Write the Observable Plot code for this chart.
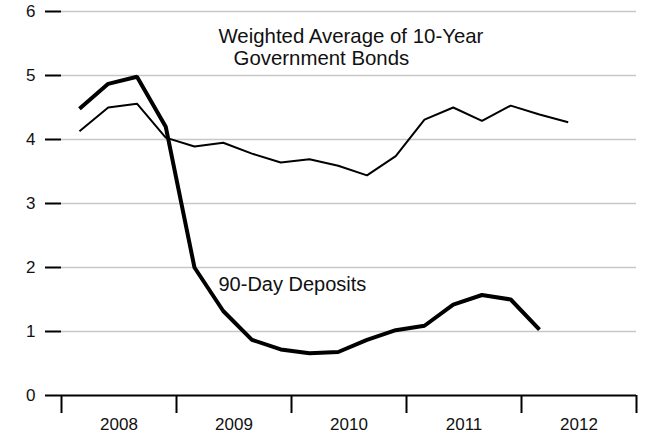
<!DOCTYPE html>
<html><head><meta charset="utf-8">
<script src="https://cdn.jsdelivr.net/npm/d3@7"></script>
<script src="https://cdn.jsdelivr.net/npm/@observablehq/plot@0.6"></script>
<style>
html,body{margin:0;padding:0;background:#fff;overflow:hidden}
#chart svg{display:block}
</style>
</head><body><div id="chart"></div>
<script>
// Quarterly observations
const quarters = ["2008Q1","2008Q2","2008Q3","2008Q4","2009Q1","2009Q2","2009Q3","2009Q4",
  "2010Q1","2010Q2","2010Q3","2010Q4","2011Q1","2011Q2","2011Q3","2011Q4","2012Q1","2012Q2"];
// Weighted Average of 10-Year Government Bonds (%)
const bonds = [4.13, 4.50, 4.56, 4.03, 3.89, 3.95, 3.78, 3.64, 3.69, 3.59, 3.44, 3.74, 4.31, 4.50, 4.29, 4.53, 4.39, 4.27];
// 90-Day Deposits (%)
const deposits = [4.48, 4.87, 4.98, 4.20, 2.00, 1.32, 0.87, 0.72, 0.66, 0.68, 0.87, 1.02, 1.09, 1.42, 1.57, 1.50, 1.03];
// Axis ticks and labels
const yTicks = [0, 1, 2, 3, 4, 5, 6];
const gridVals = [1, 2, 3, 4, 5, 6];
const yearBounds = [2008, 2009, 2010, 2011, 2012, 2013];
const yearLabels = ["2008", "2009", "2010", "2011", "2012"];
const seriesLabels = ["Weighted Average of 10-Year", "Government Bonds", "90-Day Deposits"];

const qx = q => +q.slice(0, 4) + (+q.slice(5) - 0.375) / 4;
const bondData = bonds.map((v, i) => ({x: qx(quarters[i]), y: v}));
const depData = deposits.map((v, i) => ({x: qx(quarters[i]), y: v}));
const yearMid = yearLabels.map(y => +y + 0.5);

const chart = Plot.plot({
  width: 645,
  height: 435,
  marginLeft: 61,
  marginRight: 9,
  marginTop: 11,
  marginBottom: 40,
  style: {fontFamily: "'Liberation Sans', Arial, Helvetica, sans-serif", color: "#111", background: "#fff"},
  x: {domain: [2008, 2013], axis: null, label: null},
  y: {domain: [0, 6], axis: null, label: null},
  marks: [
    Plot.ruleY(gridVals, {x1: 2008, x2: 2013, stroke: "#c8c8c8", strokeWidth: 1.5}),
    Plot.ruleY([0], {x1: 2008, x2: 2013, stroke: "#000", strokeWidth: 2}),
    Plot.axisY({ticks: yTicks, label: null, tickSize: 16, tickPadding: 10, fontSize: 17, stroke: "#000", strokeWidth: 2, tickFormat: d => String(d)}),
    Plot.axisX({ticks: yearBounds, label: null, tickSize: 18, stroke: "#000", strokeWidth: 2, tickFormat: () => ""}),
    Plot.axisX({ticks: yearMid, label: null, tickSize: 0, tickPadding: 22, fontSize: 17, tickFormat: d => yearLabels[yearMid.indexOf(d)]}),
    Plot.line(bondData, {x: "x", y: "y", stroke: "#000", strokeWidth: 2, strokeLinejoin: "miter", strokeLinecap: "butt"}),
    Plot.line(depData, {x: "x", y: "y", stroke: "#000", strokeWidth: 4, strokeLinejoin: "miter", strokeLinecap: "butt"}),
    Plot.text([seriesLabels[0]], {x: 2009.365, y: 5.51, text: d => d, textAnchor: "start", lineAnchor: "bottom", fontSize: 20.4, fill: "#111"}),
    Plot.text([seriesLabels[1]], {x: 2009.496, y: 5.165, text: d => d, textAnchor: "start", lineAnchor: "bottom", fontSize: 20.4, fill: "#111"}),
    Plot.text([seriesLabels[2]], {x: 2009.365, y: 1.64, text: d => d, textAnchor: "start", lineAnchor: "bottom", fontSize: 20, fill: "#111"})
  ]
});
document.getElementById("chart").appendChild(chart);
</script>
</body></html>
